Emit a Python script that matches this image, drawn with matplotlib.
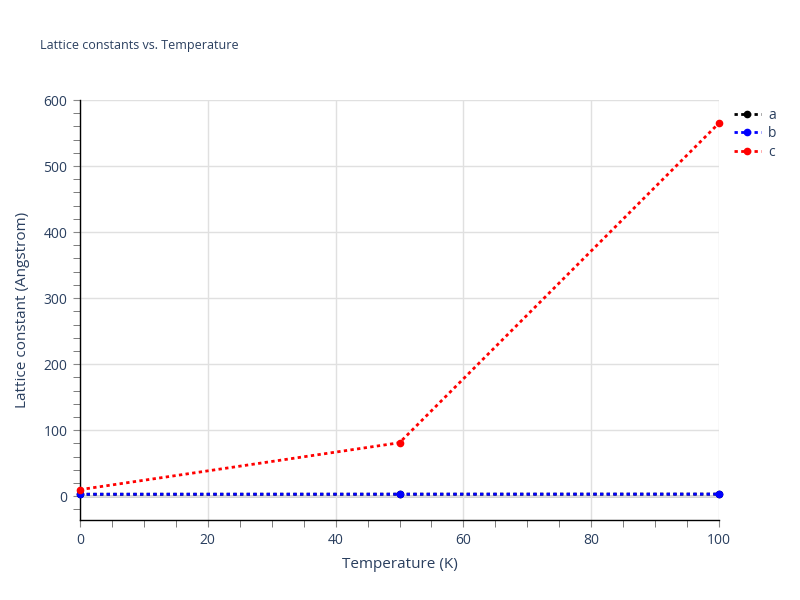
import matplotlib
matplotlib.use('Agg')
import matplotlib.pyplot as plt
from matplotlib.ticker import MultipleLocator

temps = [0, 50, 100]
a_vals = [3.0, 3.1, 3.2]
b_vals = [3.0, 3.1, 3.2]
c_vals = [10.0, 81.0, 565.0]
names = ['a', 'b', 'c']
colors = ['black', 'blue', 'red']

txt = '#2a3f5f'
plt.rcParams['font.family'] = ['Open Sans', 'DejaVu Sans']

fig = plt.figure(figsize=(8, 6), dpi=100)
ax = fig.add_axes([80/800, 80/600, 639/800, 420/600])

for name, vals, col in zip(names, [a_vals, b_vals, c_vals], colors):
    ax.plot(temps, vals, linestyle=(0, (1.2, 1.2)), color=col, linewidth=2,
            marker='o', markersize=4.5, label=name, clip_on=False, zorder=3)

ax.set_xlim(0, 100)
ax.set_ylim(-36, 600)
ax.xaxis.set_major_locator(MultipleLocator(20))
ax.xaxis.set_minor_locator(MultipleLocator(5))
ax.yaxis.set_major_locator(MultipleLocator(100))
ax.yaxis.set_minor_locator(MultipleLocator(20))

ax.grid(True, which='major', color='#e0e0e0', linewidth=1)
ax.axhline(0, color='#cccccc', linewidth=2, zorder=1)
for s in ['top', 'right']:
    ax.spines[s].set_visible(False)
for s in ['left', 'bottom']:
    ax.spines[s].set_color('black')
    ax.spines[s].set_linewidth(1)

ax.tick_params(which='major', length=5, color='#888888', labelsize=10, labelcolor=txt, pad=4)
ax.tick_params(which='minor', length=5, color='#666666')

ax.set_xlabel('Temperature (K)', fontsize=11, color=txt, labelpad=7)
ax.set_ylabel('Lattice constant (Angstrom)', fontsize=11, color=txt, labelpad=10)
fig.text(40/800, 1 - 46/600, 'Lattice constants vs. Temperature', fontsize=9,
         color=txt, va='center', ha='left')

ax.legend(loc='upper left', bbox_to_anchor=(728/800, 1 - 102/600), bbox_transform=fig.transFigure,
          frameon=False, fontsize=10, labelcolor=txt, handlelength=2, handletextpad=0.5,
          labelspacing=0.25, borderaxespad=0)

fig.savefig('out.png', dpi=100)
